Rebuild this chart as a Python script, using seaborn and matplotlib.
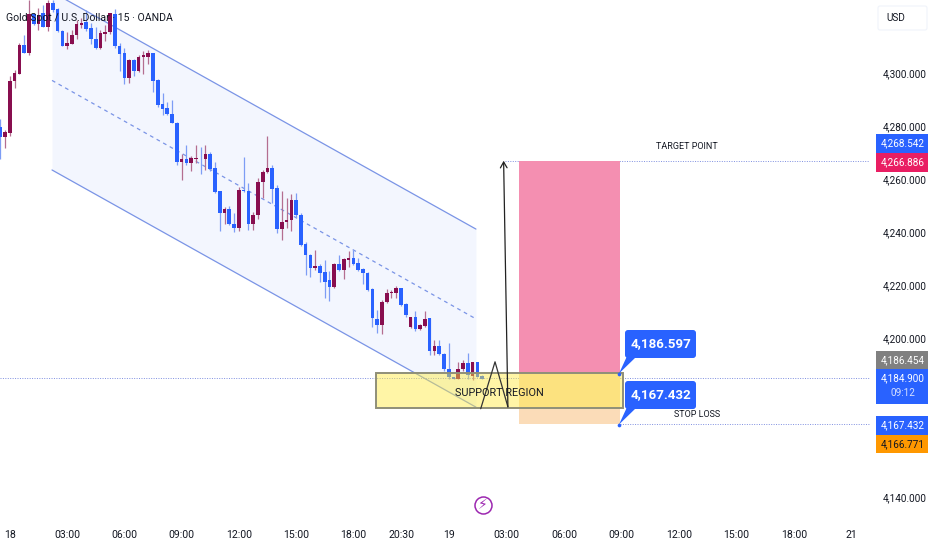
import matplotlib
matplotlib.use("Agg")
import matplotlib.pyplot as plt
import seaborn as sns
from matplotlib.patches import Rectangle, FancyBboxPatch, Polygon

directions = ("d u u u u d u d u d  u d d d u u u u d d  d u u u d d d u d u  u u d d d d d d u d  "
              "u u d u d d d u d d  u d d u u u u d d u  u u d d d d u d d d  u d u u d d d d d d  "
              "u u u u d d u d u u  d u d d d d u u d u d d").split()
body_top = [4279.7,4277.6,4297.1,4300.1,4310.5,4310.5,4322.2,4322.2,4321.8,4322.5,4326.5,4326.5,4324.0,4315.9,4311.4,4314.3,4318.4,4318.9,4319.3,4317.1,
            4313.0,4315.2,4315.5,4322.5,4322.2,4310.1,4307.7,4304.9,4304.9,4306.1,4306.7,4307.6,4307.6,4297.3,4288.3,4286.9,4284.7,4281.3,4267.5,4267.5,
            4268.1,4268.1,4268.1,4269.4,4269.4,4264.1,4255.3,4248.6,4248.6,4243.2,4256.0,4256.0,4255.5,
            4246.4,4258.9,4262.8,4264.1,4264.1,4256.5,4243.8,4244.6,4252.1,4252.1,4246.4,4235.4,4231.5,4227.3,4227.3,4224.8,4221.7,4228.0,4228.0,4229.8,4230.2,
            4230.1,4228.2,4225.9,4224.7,4218.5,4207.3,4213.7,4216.9,4217.5,4218.9,4218.9,4212.9,4207.8,4207.8,4204.9,4207.3,4207.4,4197.1,4196.9,4194.1,
            4188.3,4185.3,4188.3,4190.5,4190.5,4190.8,4190.8,4185.7]
body_bottom = [4275.9,4275.9,4277.2,4296.9,4299.8,4307.6,4307.6,4318.4,4318.4,4317.4,4317.4,4323.7,4315.9,4310.3,4310.3,4311.1,4314.3,4318.1,4316.6,4312.8,
               4309.3,4309.3,4314.9,4315.3,4310.1,4307.1,4298.3,4298.3,4300.6,4300.6,4305.9,4306.1,4297.1,4287.9,4286.6,4284.4,4281.2,4266.4,4266.4,4265.9,
               4265.9,4267.7,4267.9,4267.7,4263.7,4255.0,4247.0,4247.0,4243.0,4241.5,4241.5,4255.5,4243.0,
               4242.9,4246.4,4258.8,4262.5,4256.3,4241.2,4241.2,4243.8,4244.6,4246.4,4235.1,4231.4,4226.3,4226.3,4224.7,4221.3,4219.4,4219.1,4225.7,4225.7,4229.6,
               4228.0,4225.7,4224.4,4218.1,4207.4,4204.9,4204.9,4213.5,4217.1,4217.1,4212.4,4208.5,4204.1,4203.5,4203.5,4204.7,4195.2,4195.2,4194.0,4188.3,
               4185.1,4184.6,4184.6,4188.2,4186.1,4185.8,4185.4,4184.7]
wick_high = [4282.5,4278.4,4298.8,4301.1,4311.4,4314.3,4327.5,4322.5,4324.4,4325.6,4327.5,4327.5,4324.4,4316.2,4315.5,4316.2,4320.0,4320.6,4323.7,4318.7,
             4317.4,4316.2,4318.1,4322.7,4324.0,4311.4,4309.5,4305.1,4305.1,4306.7,4308.4,4308.6,4307.6,4297.6,4292.5,4289.1,4289.8,4281.6,4269.6,4272.8,
             4268.6,4272.8,4272.1,4272.8,4270.3,4266.5,4255.5,4249.5,4249.8,4247.0,4257.1,4268.4,4258.3,
             4247.7,4260.3,4263.4,4276.3,4265.3,4257.8,4255.6,4252.7,4254.4,4254.6,4247.1,4236.4,4231.7,4233.2,4228.0,4229.5,4225.1,4228.2,4231.4,4230.1,4233.0,
             4233.2,4230.1,4226.3,4224.9,4218.8,4210.6,4214.4,4218.4,4218.1,4219.7,4218.9,4213.1,4208.1,4210.0,4205.3,4210.3,4207.7,4199.3,4199.3,4194.4,
             4198.0,4185.4,4191.1,4191.5,4194.2,4191.1,4191.1,4186.1]
wick_low = [4267.7,4271.8,4276.2,4294.2,4299.6,4307.4,4306.7,4318.1,4316.2,4317.2,4315.9,4323.1,4315.5,4310.1,4308.9,4310.9,4313.0,4316.8,4315.9,4311.1,
            4309.0,4309.0,4312.2,4314.9,4309.6,4300.8,4296.0,4296.3,4298.8,4300.5,4299.8,4303.3,4292.9,4287.2,4284.1,4284.1,4281.0,4265.2,4259.6,4265.2,
            4263.1,4265.9,4261.7,4263.3,4263.1,4254.8,4240.4,4243.2,4242.6,4240.1,4240.4,4255.2,4240.7,
            4240.8,4244.8,4252.7,4262.4,4250.8,4239.5,4237.0,4241.4,4240.2,4245.8,4234.7,4223.8,4222.9,4225.7,4221.3,4215.0,4214.1,4218.8,4225.4,4222.2,4226.9,
            4227.6,4225.4,4220.4,4217.9,4204.1,4201.8,4201.4,4213.1,4215.0,4215.0,4212.1,4208.1,4203.7,4202.8,4203.0,4204.3,4193.6,4193.6,4193.7,4187.7,
            4184.4,4184.4,4184.4,4187.7,4184.4,4184.2,4185.2,4184.4]

channel_x = [10.84, 99.7]
channel_upper = [4330.6, 4241.1]
channel_mid = [4297.2, 4207.2]
channel_lower = [4263.4, 4173.9]

x_tick_pos = [2, 14, 26, 38, 50, 62, 74, 84, 94, 106, 118.2, 130.2, 142.3, 154.3, 166.4, 178.4]
x_tick_labels = ["18", "03:00", "06:00", "09:00", "12:00", "15:00", "18:00", "20:30", "19",
                 "03:00", "06:00", "09:00", "12:00", "15:00", "18:00", "21"]
y_ticks = [4300, 4280, 4260, 4240, 4220, 4200, 4140]

last_price = 4184.900
target_price = 4266.886
entry_price = 4186.597
stop_price = 4167.432
support_bottom = 4173.6
zigzag_x = [100.7, 103.7, 106.4]
zigzag_y = [4173.3, 4191.0, 4174.0]

BLUE = "#2962ff"
MAROON = "#880e4f"
INK = "#131722"

sns.set_theme(style="white")
plt.rcParams["font.family"] = ["Roboto", "DejaVu Sans"]

fig = plt.figure(figsize=(9.32, 5.5), dpi=100, facecolor="white")
ax = fig.add_axes([0, 30 / 550, 870 / 932, 520 / 550])
ax.set_xlim(-0.063, 182.3)
ax.set_ylim(4131.3, 4327.55)
for s in ax.spines.values():
    s.set_visible(False)
ax.grid(False)

# channel
ax.fill_between(channel_x, channel_lower, channel_upper, color="#f3f6fe", lw=0, zorder=1)
for series, style in ((channel_upper, "-"), (channel_lower, "-"), (channel_mid, (0, (3, 3)))):
    sns.lineplot(x=channel_x, y=series, ax=ax, color="#7a94e6", lw=0.9,
                 linestyle=style, zorder=2, legend=False)

# candles
xs = list(range(len(body_top)))
up = [d == "u" for d in directions]
colors = [MAROON if u else BLUE for u in up]
wick_colors = ["#b46e90" if u else "#7d9df5" for u in up]
ax.vlines(xs, wick_low, wick_high, colors=wick_colors, lw=0.9, zorder=3)
ax.bar(xs, [t - b for t, b in zip(body_top, body_bottom)], bottom=body_bottom,
       width=0.76, color=colors, lw=0, zorder=4)

# risk / reward
ax.add_patch(Rectangle((108.7, entry_price), 21.2, target_price - entry_price,
                       facecolor="#f48fb1", lw=0, zorder=5))
ax.add_patch(Rectangle((108.7, stop_price), 21.2, entry_price - stop_price,
                       facecolor="#fbdcb8", lw=0, zorder=5))
ax.add_patch(Rectangle((78.8, support_bottom), 51.7, entry_price - support_bottom,
                       facecolor=(1, 0.92, 0.23, 0.45), edgecolor="#8f8f78", lw=1.4, zorder=6))

# price lines
dot = dict(color="#7f8fe0", lw=0.7, linestyles=(0, (1, 1.5)), zorder=2)
ax.hlines(last_price, -0.063, 182.3, **dot)
ax.hlines(target_price, 105.8, 182.3, **dot)
ax.hlines(stop_price, 129.9, 182.3, **dot)

# zigzag + arrow
sns.lineplot(x=zigzag_x, y=zigzag_y, ax=ax, color="#333333", lw=0.9, zorder=7,
             legend=False, sort=False)
ax.annotate("", xy=(105.5, target_price), xytext=(106.4, 4174.0),
            arrowprops=dict(arrowstyle="->,head_length=0.35,head_width=0.2", color="#222222",
                            lw=0.9, shrinkA=0, shrinkB=0), zorder=7)

ax.text(104.7, 4179.3, "SUPPORT REGION", ha="center", va="center", fontsize=7.8, color=INK, zorder=8)
ax.text(144, 4272.4, "TARGET POINT", ha="center", va="center", fontsize=6.5, color=INK, zorder=8)
ax.text(146, 4171.3, "STOP LOSS", ha="center", va="center", fontsize=6.5, color=INK, zorder=8)

# axes ticks
ax.yaxis.tick_right()
ax.set_yticks(y_ticks)
ax.set_yticklabels([f"{v:,.3f}" for v in y_ticks], fontsize=7.2, color=INK)
ax.set_xticks(x_tick_pos)
ax.set_xticklabels(x_tick_labels, fontsize=7.6, color=INK)
ax.tick_params(axis="y", length=0, pad=9.5)
ax.tick_params(axis="x", length=0, pad=7)

# pixel overlay for chart chrome
ov = fig.add_axes([0, 0, 1, 1], facecolor="none")
ov.set_xlim(0, 932)
ov.set_ylim(550, 0)
ov.axis("off")

ov.text(6, 18, "Gold Spot / U.S. Dollar · 15 · OANDA", fontsize=7.6, color=INK, va="center", ha="left")

def tag(y0, y1, fc, lines):
    ov.add_patch(Rectangle((875.7, y0), 52, y1 - y0, facecolor=fc, lw=0))
    for yy, s, col in lines:
        ov.text(903, yy, s, ha="center", va="center", fontsize=7.2, color=col)

tag(134, 153, BLUE, [(143.5, "4,268.542", "white")])
tag(153, 172, "#e91e63", [(162, "4,266.886", "white")])
tag(351, 369, "#808080", [(360, "4,186.454", "white")])
tag(369, 403.5, BLUE, [(378, "4,184.900", "white"), (393, "09:12", "#d5e0ff")])
tag(415.5, 435, BLUE, [(425, "4,167.432", "white")])
tag(435, 453, "#ff9800", [(444, "4,166.771", INK)])

ov.add_patch(FancyBboxPatch((879, 7), 47, 22, boxstyle="round,pad=1,rounding_size=2",
                            facecolor="white", edgecolor="#f0f3fa", lw=0.8))
ov.text(886, 18, "USD", fontsize=7.2, color=INK, va="center", ha="left")

def callout(y0, tip, label):
    ov.add_patch(Polygon([(619, tip), (628, y0 + 24), (636, y0 + 27)], closed=True, facecolor=BLUE, lw=0))
    ov.add_patch(FancyBboxPatch((627, y0 + 2), 67, 24, boxstyle="round,pad=2,rounding_size=3",
                                facecolor=BLUE, lw=0))
    ov.text(660.5, y0 + 14, label, ha="center", va="center", fontsize=9.6, color="white", fontweight="bold")
    ov.scatter([619], [tip], s=7, color=BLUE, zorder=5, lw=0)

callout(330, 373.5, "4,186.597")
callout(381, 424.5, "4,167.432")

# lightning icon
ov.scatter([482.7], [505], s=150, facecolor="white", edgecolor="#9c27b0", lw=1.1, zorder=5)
ov.text(482.7, 505, "⚡", family="DejaVu Sans", fontsize=10, color="#9c27b0", ha="center", va="center", zorder=6)

fig.savefig("out.png", dpi=100, facecolor="white")
